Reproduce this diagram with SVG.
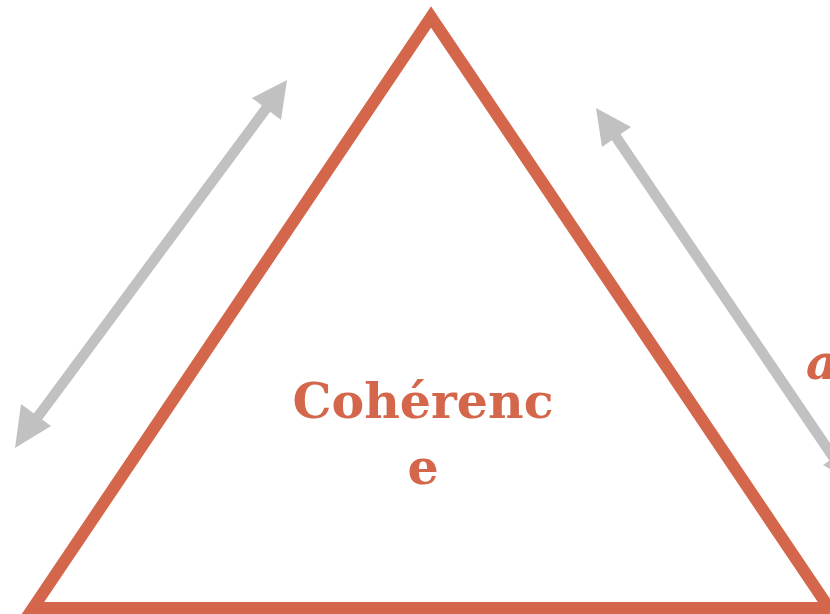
<svg xmlns="http://www.w3.org/2000/svg" width="830" height="614" viewBox="0 0 830 614">
<style>
.tri{fill:none;stroke:#D3664B;stroke-width:12;stroke-linejoin:miter;stroke-miterlimit:10}
.shaft{stroke:#C1C1C1;stroke-width:10.5;fill:none}
.head{fill:#C1C1C1}
.lbl{font-family:"DejaVu Serif",serif;font-weight:bold;font-size:49px;fill:#D3664B}
</style>
<rect width="830" height="614" fill="#fff"/>
<g id="triangle">
<polygon class="tri" points="431,17 33,608 829,608"/>
</g>
<g id="connectors">
<line class="shaft" x1="34" y1="422" x2="268" y2="106"/>
<polygon class="head" points="15,448 21,404 51,426"/>
<polygon class="head" points="287,80 252,98 281,120"/>
<line class="shaft" x1="614" y1="134" x2="840" y2="467"/>
<polygon class="head" points="596,108 602,147 631,127"/>
<polygon class="head" points="857,484 823,465 852,445"/>
</g>
<g id="label-center">
<text class="lbl" x="423" y="418" text-anchor="middle">Cohérenc</text>
<text class="lbl" x="423" y="484" text-anchor="middle">e</text>
</g>
<g id="label-right">
<text class="lbl" x="806" y="379" font-style="italic">a</text>
</g>
</svg>
